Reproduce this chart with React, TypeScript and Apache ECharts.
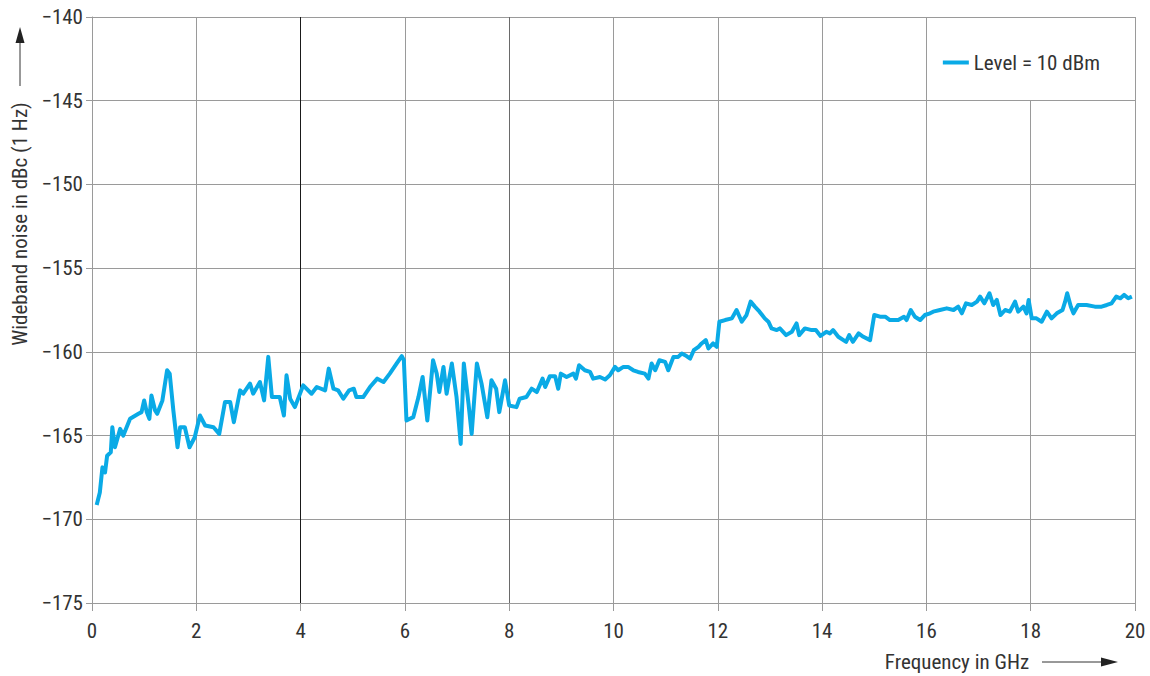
import React, { useEffect, useRef } from "react";
import * as echarts from "echarts";

const freqGHz: number[] = [
  0.09, 0.15, 0.2, 0.25, 0.29, 0.36, 0.39, 0.44, 0.54, 0.6, 0.73, 0.89, 0.95, 1.0, 1.05, 1.1, 1.14, 1.21, 1.25, 1.35,
  1.44, 1.49, 1.56, 1.64, 1.69, 1.78, 1.87, 1.97, 2.07, 2.17, 2.33, 2.44, 2.55, 2.65, 2.72, 2.84, 2.9, 3.03, 3.09, 3.22,
  3.3, 3.38, 3.45, 3.6, 3.68, 3.73, 3.8, 3.89, 4.05, 4.21, 4.31, 4.47, 4.54, 4.63, 4.72, 4.82, 4.93, 5.02, 5.07, 5.2,
  5.33, 5.47, 5.59, 5.71, 5.84, 5.94, 5.98, 6.03, 6.16, 6.26, 6.34, 6.43, 6.54, 6.61, 6.66, 6.74, 6.8, 6.9, 6.99, 7.07,
  7.13, 7.22, 7.28, 7.38, 7.47, 7.58, 7.66, 7.75, 7.81, 7.92, 8.0, 8.14, 8.2, 8.33, 8.43, 8.53, 8.64, 8.69, 8.78, 8.88,
  8.94, 8.99, 9.1, 9.23, 9.28, 9.34, 9.45, 9.55, 9.61, 9.74, 9.84, 9.93, 10.03, 10.09, 10.19, 10.28, 10.38, 10.47, 10.6, 10.67,
  10.73, 10.8, 10.88, 10.99, 11.05, 11.15, 11.24, 11.31, 11.4, 11.47, 11.54, 11.63, 11.69, 11.77, 11.82, 11.91, 11.98, 12.03, 12.14, 12.27,
  12.36, 12.46, 12.55, 12.63, 12.71, 12.8, 12.9, 12.97, 13.03, 13.13, 13.19, 13.31, 13.42, 13.51, 13.56, 13.67, 13.8, 13.88, 13.97, 14.08,
  14.15, 14.21, 14.31, 14.46, 14.52, 14.59, 14.7, 14.79, 14.92, 15.0, 15.11, 15.21, 15.3, 15.46, 15.57, 15.62, 15.7, 15.78, 15.88, 15.97,
  16.07, 16.13, 16.26, 16.39, 16.52, 16.61, 16.68, 16.76, 16.87, 16.97, 17.03, 17.11, 17.21, 17.28, 17.35, 17.42, 17.51, 17.6, 17.7, 17.76,
  17.86, 17.92, 17.96, 18.02, 18.11, 18.21, 18.31, 18.4, 18.5, 18.61, 18.66, 18.7, 18.77, 18.82, 18.91, 19.07, 19.23, 19.36, 19.46, 19.55,
  19.64, 19.72, 19.79, 19.87, 19.94,
];

const noiseDbc: number[] = [
  -169.15, -168.4, -166.9, -167.2, -166.2, -166.0, -164.5, -165.7, -164.6, -165.0, -164.0, -163.7, -163.6, -162.9, -163.6, -164.0, -162.6, -163.5, -163.7, -162.9,
  -161.1, -161.3, -163.5, -165.7, -164.5, -164.5, -165.7, -165.1, -163.8, -164.4, -164.5, -164.9, -163.0, -163.0, -164.2, -162.3, -162.5, -161.9, -162.5, -161.8,
  -162.9, -160.3, -162.7, -162.7, -163.8, -161.4, -162.8, -163.3, -162.0, -162.5, -162.1, -162.3, -161.0, -162.2, -162.3, -162.8, -162.3, -162.2, -162.7, -162.7,
  -162.1, -161.6, -161.8, -161.3, -160.7, -160.25, -160.5, -164.1, -163.9, -162.7, -161.5, -164.1, -160.5, -161.3, -162.4, -160.9, -162.5, -160.7, -162.7, -165.5,
  -160.7, -163.1, -164.9, -160.7, -161.9, -163.9, -161.7, -162.2, -163.6, -161.7, -163.2, -163.3, -162.8, -162.7, -162.2, -162.4, -161.6, -162.1, -161.45, -161.45,
  -162.2, -161.3, -161.5, -161.3, -161.6, -160.8, -161.1, -161.2, -161.6, -161.5, -161.65, -161.4, -160.9, -161.1, -160.9, -160.9, -161.1, -161.2, -161.3, -161.6,
  -160.7, -161.1, -160.5, -160.6, -161.1, -160.3, -160.3, -160.1, -160.25, -160.4, -159.9, -159.7, -159.5, -159.3, -159.8, -159.5, -159.7, -158.2, -158.1, -158.0,
  -157.5, -158.2, -157.8, -157.0, -157.3, -157.6, -158.0, -158.2, -158.6, -158.7, -158.6, -159.0, -158.8, -158.3, -159.0, -158.6, -158.7, -158.7, -159.05, -158.8,
  -158.9, -158.7, -159.1, -159.4, -159.0, -159.4, -158.9, -159.1, -159.3, -157.8, -157.9, -157.9, -158.1, -158.1, -157.9, -158.1, -157.5, -157.9, -158.1, -157.8,
  -157.7, -157.6, -157.5, -157.4, -157.5, -157.3, -157.7, -157.1, -157.2, -157.0, -156.7, -157.1, -156.5, -157.2, -156.9, -157.8, -157.5, -157.6, -157.0, -157.6,
  -157.3, -157.7, -156.9, -158.0, -158.0, -158.2, -157.6, -158.0, -157.7, -157.5, -157.0, -156.5, -157.3, -157.7, -157.2, -157.2, -157.3, -157.3, -157.2, -157.1,
  -156.7, -156.8, -156.6, -156.8, -156.7,
];

const seriesName = "Level = 10 dBm";
const yAxisTitle = "Wideband noise in dBc (1 Hz)";
const xAxisTitle = "Frequency in GHz";
const xTicks: number[] = [0, 2, 4, 6, 8, 10, 12, 14, 16, 18, 20];

const FONT = "'Roboto Condensed', 'Liberation Sans Narrow', Roboto, sans-serif";
const GRAY = "#9a9a9a";

export default function App() {
  const ref = useRef<HTMLDivElement>(null);
  useEffect(() => {
    document.body.style.margin = "0";
    if (!ref.current) return;
    const chart = echarts.init(ref.current, undefined, { renderer: "svg" });
    const data = freqGHz.map((f, i) => [f, noiseDbc[i]]);
    const vColors = xTicks.map((t) => (t === 4 ? "#1a1a1a" : t === 8 ? "#6a6a6a" : GRAY));
    chart.setOption({
      animation: false,
      backgroundColor: "#ffffff",
      textStyle: { fontFamily: FONT },
      grid: { left: 92, right: 15, top: 17, bottom: 73, containLabel: false },
      xAxis: {
        type: "value",
        min: 0,
        max: 20,
        interval: 2,
        axisLine: { show: true, lineStyle: { color: GRAY, width: 1 } },
        axisTick: { show: true, length: 8, lineStyle: { color: GRAY } },
        axisLabel: {
          color: "#333",
          fontSize: 21,
          fontFamily: FONT,
          margin: 17,
          formatter: (v: number) => String(v),
        },
        splitLine: { show: true, lineStyle: { color: vColors, width: 1 } },
      },
      yAxis: {
        type: "value",
        min: -175,
        max: -140,
        interval: 5,
        axisLine: { show: true, lineStyle: { color: GRAY, width: 1 } },
        axisTick: { show: true, length: 6, lineStyle: { color: GRAY } },
        axisLabel: {
          color: "#333",
          fontSize: 21,
          fontFamily: FONT,
          margin: 9,
          formatter: (v: number) => (v < 0 ? "\u2212" + Math.abs(v) : String(v)),
        },
        splitLine: { show: true, lineStyle: { color: GRAY, width: 1 } },
      },
      legend: {
        show: true,
        right: 45,
        top: 47,
        z: 30,
        itemWidth: 26,
        itemHeight: 4,
        itemGap: 9,
        textStyle: { color: "#333", fontSize: 21, fontFamily: FONT },
        data: [{ name: seriesName, icon: "rect" }],
      },
      graphic: [
        {
          type: "rect",
          z: 20,
          shape: { x: 932, y: 18, width: 202, height: 82 },
          style: { fill: "#ffffff" },
        },
        {
          type: "text",
          z: 30,
          x: 20,
          y: 224,
          rotation: Math.PI / 2,
          style: {
            text: yAxisTitle,
            fill: "#333",
            font: `21px ${FONT}`,
            align: "center",
            verticalAlign: "middle",
          },
        },
        {
          type: "line",
          z: 30,
          shape: { x1: 20, y1: 86, x2: 20, y2: 42 },
          style: { stroke: "#333", lineWidth: 1 },
        },
        {
          type: "polygon",
          z: 30,
          shape: { points: [[20, 27], [15.5, 43], [24.5, 43]] },
          style: { fill: "#222" },
        },
        {
          type: "text",
          z: 30,
          x: 957,
          y: 662,
          style: {
            text: xAxisTitle,
            fill: "#333",
            font: `21px ${FONT}`,
            align: "center",
            verticalAlign: "middle",
          },
        },
        {
          type: "line",
          z: 30,
          shape: { x1: 1042, y1: 662, x2: 1102, y2: 662 },
          style: { stroke: "#333", lineWidth: 1 },
        },
        {
          type: "polygon",
          z: 30,
          shape: { points: [[1118, 662], [1101, 657.5], [1101, 666.5]] },
          style: { fill: "#222" },
        },
      ],
      series: [
        {
          name: seriesName,
          type: "line",
          data,
          showSymbol: false,
          symbol: "none",
          z: 5,
          lineStyle: { color: "#0aaae6", width: 4, join: "round" },
          itemStyle: { color: "#0aaae6" },
        },
      ],
    });
    return () => chart.dispose();
  }, []);
  return <div ref={ref} style={{ width: 1150, height: 676 }} />;
}
